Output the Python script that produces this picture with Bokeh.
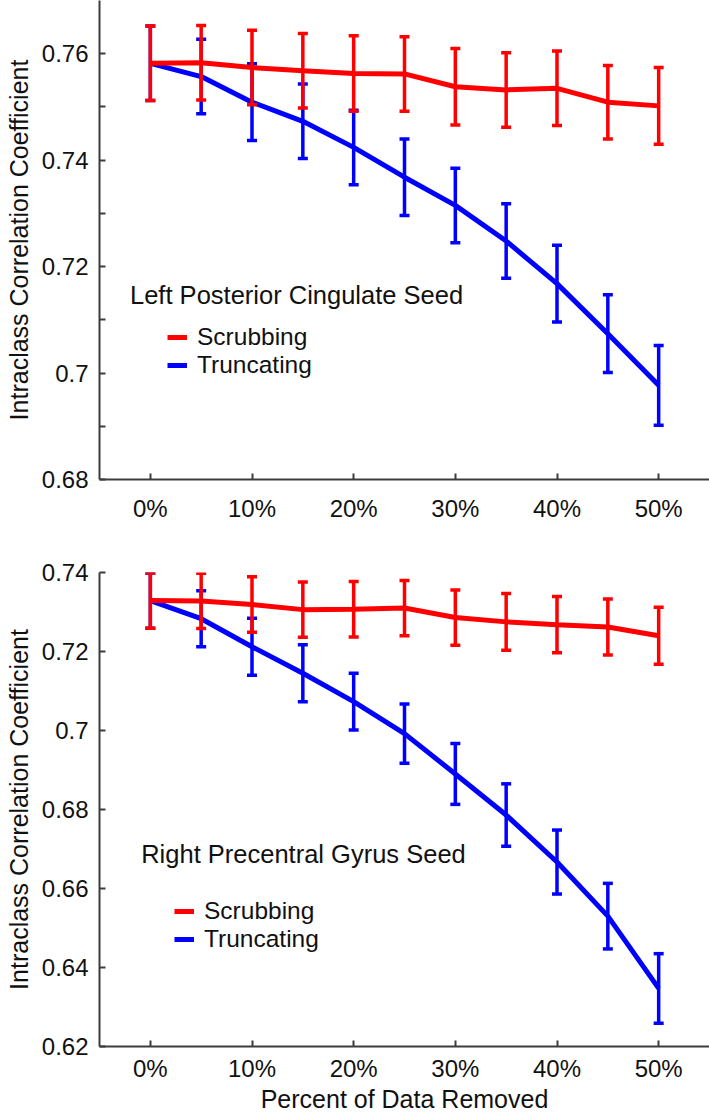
from bokeh.plotting import figure
from bokeh.layouts import column
from bokeh.models import (FixedTicker, CustomJSTickFormatter, PrintfTickFormatter,
                          Legend, LegendItem, Label, Range1d)
from bokeh.embed import file_html
from bokeh.resources import INLINE

# ---------------- data ----------------
pct = [0, 5, 10, 15, 20, 25, 30, 35, 40, 45, 50]
x_ticks = [0, 10, 20, 30, 40, 50]

top_title = "Left Posterior Cingulate Seed"
top_scrub = [0.7582, 0.7583, 0.7574, 0.7568, 0.7563, 0.7562, 0.7538, 0.7532, 0.7535, 0.7509, 0.7502]
top_scrub_err = [0.0070, 0.0070, 0.0070, 0.0070, 0.0071, 0.0070, 0.0072, 0.0070, 0.0070, 0.0069, 0.0072]
top_trunc = [0.7582, 0.7557, 0.7509, 0.7473, 0.7424, 0.7368, 0.7315, 0.7248, 0.7168, 0.7074, 0.6977]
top_trunc_err = [0.0070, 0.0070, 0.0072, 0.0070, 0.0070, 0.0072, 0.0070, 0.0070, 0.0072, 0.0073, 0.0075]
top_yticks = [0.68, 0.70, 0.72, 0.74, 0.76]
top_yminor = [0.69, 0.71, 0.73, 0.75]

bot_title = "Right Precentral Gyrus Seed"
bot_scrub = [0.7329, 0.7328, 0.7319, 0.7306, 0.7307, 0.7310, 0.7286, 0.7275, 0.7268, 0.7262, 0.7240]
bot_scrub_err = [0.0070, 0.0070, 0.0070, 0.0070, 0.0070, 0.0070, 0.0070, 0.0072, 0.0071, 0.0071, 0.0072]
bot_trunc = [0.7329, 0.7283, 0.7212, 0.7145, 0.7073, 0.6992, 0.6890, 0.6786, 0.6667, 0.6530, 0.6347]
bot_trunc_err = [0.0070, 0.0071, 0.0072, 0.0072, 0.0072, 0.0075, 0.0077, 0.0079, 0.0081, 0.0083, 0.0088]
bot_yticks = [0.62, 0.64, 0.66, 0.68, 0.70, 0.72, 0.74]

series_names = ["Scrubbing", "Truncating"]
y_label = "Intraclass Correlation Coefficient"
x_label = "Percent of Data Removed"

FONT = "Liberation Sans"
RED = "#ff0000"
BLUE = "#0000ff"
AXIS = "#3c3c3c"
TXT = "#111111"


def panel(height, border_top, border_bottom, y0, y1, yticks, yminor,
          scrub, scrub_err, trunc, trunc_err, title, title_xy, legend_xy,
          xlab, xstandoff):
    p = figure(width=709, height=height, output_backend="svg", toolbar_location=None,
               x_range=Range1d(-5, 55), y_range=Range1d(y0, y1),
               min_border_left=99, min_border_right=0,
               min_border_top=border_top, min_border_bottom=border_bottom)
    p.outline_line_color = None
    p.grid.visible = False
    p.background_fill_color = "white"

    # Truncating first (drawn below)
    lo_t = [m - e for m, e in zip(trunc, trunc_err)]
    hi_t = [m + e for m, e in zip(trunc, trunc_err)]
    r_t = p.line(pct, trunc, line_color=BLUE, line_width=5)
    p.segment(x0=pct, y0=lo_t, x1=pct, y1=hi_t, line_color=BLUE, line_width=3.5)
    p.scatter(pct + pct, lo_t + hi_t, marker="dash", size=10, line_color=BLUE, line_width=3.5)

    lo_s = [m - e for m, e in zip(scrub, scrub_err)]
    hi_s = [m + e for m, e in zip(scrub, scrub_err)]
    r_s = p.line(pct, scrub, line_color=RED, line_width=5)
    p.segment(x0=pct, y0=lo_s, x1=pct, y1=hi_s, line_color=RED, line_width=3.5)
    p.scatter(pct + pct, lo_s + hi_s, marker="dash", size=10, line_color=RED, line_width=3.5)

    # axes
    p.xaxis.ticker = FixedTicker(ticks=x_ticks)
    p.xaxis.formatter = PrintfTickFormatter(format="%d%%")
    p.yaxis.ticker = FixedTicker(ticks=yticks, minor_ticks=yminor)
    p.yaxis.formatter = CustomJSTickFormatter(code="return tick.toFixed(2).replace(/0$/, '');")
    for ax in (p.xaxis, p.yaxis):
        ax.axis_line_color = AXIS
        ax.axis_line_width = 2
        ax.major_tick_line_color = AXIS
        ax.major_tick_line_width = 2
        ax.minor_tick_line_color = AXIS
        ax.minor_tick_line_width = 2
        ax.major_tick_in = 6
        ax.major_tick_out = 0
        ax.minor_tick_in = 6
        ax.minor_tick_out = 0
        ax.major_label_text_font = FONT
        ax.major_label_text_font_size = "24px"
        ax.major_label_text_color = TXT
        ax.axis_label_text_font = FONT
        ax.axis_label_text_font_size = "25px"
        ax.axis_label_text_font_style = "normal"
        ax.axis_label_text_color = TXT
    p.xaxis.minor_tick_in = 0
    p.xaxis.major_label_standoff = xstandoff
    p.yaxis.major_label_standoff = 11
    p.yaxis.axis_label = y_label
    p.yaxis.axis_label_standoff = 6
    if xlab:
        p.xaxis.axis_label = xlab
        p.xaxis.axis_label_standoff = 0

    p.add_layout(Label(x=title_xy[0], y=title_xy[1], text=title, text_baseline="middle",
                       text_font=FONT, text_font_size="25.5px", text_color=TXT))

    legend = Legend(items=[LegendItem(label=series_names[0], renderers=[r_s]),
                           LegendItem(label=series_names[1], renderers=[r_t])],
                    location=legend_xy, border_line_color=None, background_fill_alpha=0,
                    padding=0, margin=0, spacing=0, label_standoff=10,
                    glyph_width=20, glyph_height=20,
                    label_text_font=FONT, label_text_font_size="24.5px",
                    label_text_color=TXT)
    p.add_layout(legend, "center")
    return p


top = panel(530, 0, 51, 0.68, 0.77, top_yticks, top_yminor,
            top_scrub, top_scrub_err, top_trunc, top_trunc_err,
            top_title, (-2.0, 0.7146), (68, 100), None, 15)
bot = panel(585, 42, 65, 0.62, 0.74, bot_yticks, [],
            bot_scrub, bot_scrub_err, bot_trunc, bot_trunc_err,
            bot_title, (-0.9, 0.6687), (75, 93), x_label, 8)

layout = column(top, bot, spacing=0)
open("out.html", "w").write(file_html(layout, INLINE))
